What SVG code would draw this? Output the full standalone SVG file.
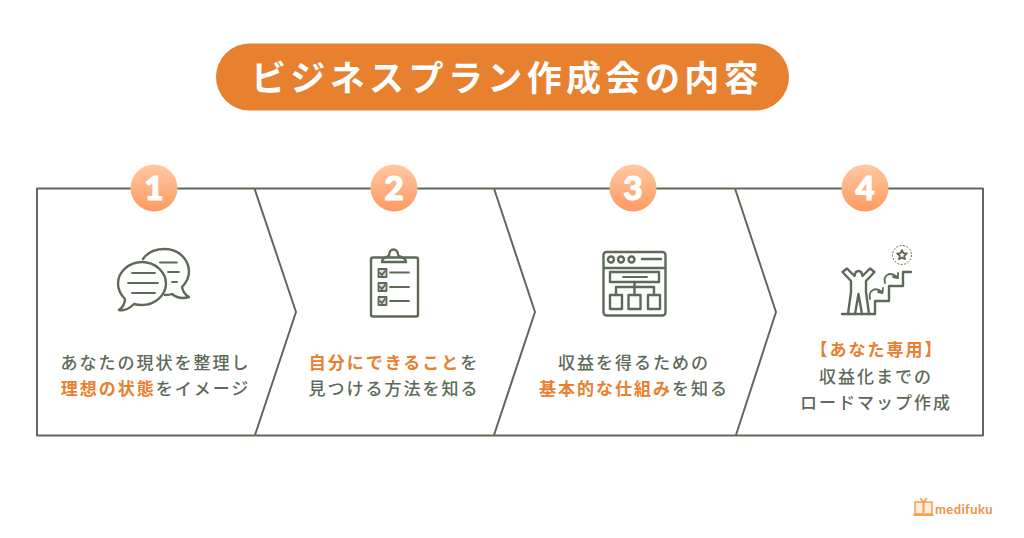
<svg xmlns="http://www.w3.org/2000/svg" width="1024" height="538" viewBox="0 0 1024 538">
<style>
.ln{fill:none;stroke:#5d6a58;stroke-width:2;stroke-linejoin:round}
.ic{fill:none;stroke:#5d6a58;stroke-width:2.400;stroke-linecap:round;stroke-linejoin:round}
.th{fill:none;stroke:#5d6a58;stroke-width:1.800;stroke-linecap:round;stroke-linejoin:round}
.t{font-family:"Noto Sans CJK JP","Noto Sans",sans-serif;font-size:17px;font-weight:500;fill:#5d6a58;letter-spacing:2px;text-anchor:middle}
.o{fill:#e8802f;font-weight:700}
.n{font-family:"Lato","Liberation Sans",sans-serif;font-size:33px;font-weight:900;fill:#fff;stroke:#fff;stroke-width:1.200;text-anchor:middle}
</style>
<defs>
<linearGradient id="g" x1="0" y1="0" x2="0" y2="1"><stop offset="0" stop-color="#ffc8a4"/><stop offset="1" stop-color="#ff9a60"/></linearGradient>
</defs>
<rect width="1024" height="538" fill="#fff"/>
<g id="title">
<rect x="216" y="43.500" width="573" height="67" rx="33.500" fill="#e7802f"/>
<text x="507" y="91" font-family="'Noto Sans CJK JP',sans-serif" font-size="35px" font-weight="700" fill="#fff" letter-spacing="4.400px" text-anchor="middle">ビジネスプラン作成会の内容</text>
</g>
<g id="connectors">
<rect x="37" y="188.500" width="946" height="247" class="ln"/>
<path class="ln" d="M254.500 188.500L296 312L255 435"/>
<path class="ln" d="M494 188.500L535 312L494 435"/>
<path class="ln" d="M735 188.500L776 312L736 435"/>
</g>
<g id="step1">
<circle cx="154" cy="188" r="23.500" fill="url(#g)"/>
<text class="n" x="154" y="200">1</text>
<path class="ic" d="M143 259C147 253 155 249 165 249C178 249 189 259 189 271.500C189 278 186 283 182 287C183 292 185 295 189 297C183 299 177 298 172 294C170 295 168 295 165 295"/>
<path class="ic" d="M142 262C155 262 166 272 166 283.500C166 295 155 305 142 305C139 305 137 305 134 304C129 309 125 311 119 310C123 307 125 304 125 299C121 295 118 289 118 283.500C118 272 129 262 142 262Z"/>
<path class="th" d="M132 273H155M128 283H158M132 293H155M160 262.500H177M168 272H179M172 282H177"/>
</g>
<text class="t" x="155.500" y="369">あなたの現状を整理し</text>
<text class="t" x="155.500" y="395"><tspan class="o">理想の状態</tspan>をイメージ</text>
<g id="step2">
<circle cx="394" cy="188" r="23.500" fill="url(#g)"/>
<text class="n" x="394" y="200">2</text>
<rect class="ic" x="371" y="257.500" width="47" height="59" rx="2"/>
<path class="ic" d="M382 262C382 258 386 257 389 256C389 252 391 249.500 393.500 249.500C396 249.500 398 252 398.500 256C401 257 406 258 406 262Z"/>
<g class="th"><rect x="378.500" y="269" width="8" height="8" fill="#dfe2dc"/><rect x="378.500" y="283" width="8" height="8" fill="#dfe2dc"/><rect x="378.500" y="297" width="8" height="8" fill="#dfe2dc"/>
<path d="M380 273L382 275L385 271M380 287L382 289L385 285M380 301L382 303L385 299M390 272.500H409M390 287H409M390 301H409"/></g>
</g>
<text class="t" x="394" y="369"><tspan class="o">自分にできること</tspan>を</text>
<text class="t" x="394" y="395">見つける方法を知る</text>
<g id="step3">
<circle cx="633" cy="188" r="23.500" fill="url(#g)"/>
<text class="n" x="633" y="200">3</text>
<rect class="ic" x="603.500" y="252" width="62" height="63.500" rx="3"/>
<path class="ic" d="M604 268H665M642 259H661"/>
<circle class="ic" cx="611" cy="259.500" r="3"/><circle class="ic" cx="621" cy="259.500" r="3"/><circle class="ic" cx="631.500" cy="259.500" r="3"/>
<rect class="ic" x="610" y="272" width="49" height="10"/>
<path class="th" d="M623 277H647"/>
<path class="ic" d="M634.500 282V295M616 295V287H654V295"/>
<rect class="ic" x="610" y="295" width="12" height="14"/><rect class="ic" x="628.500" y="295" width="12" height="14"/><rect class="ic" x="648" y="295" width="12" height="14"/>
</g>
<text class="t" x="634" y="369">収益を得るための</text>
<text class="t" x="634" y="395"><tspan class="o">基本的な仕組み</tspan>を知る</text>
<g id="step4">
<circle cx="865" cy="188" r="23.500" fill="url(#g)"/>
<text class="n" x="865" y="200">4</text>
<path class="ic" d="M842 314H875V301H889V286H903V272H911"/>
<path class="ic" d="M842.500 272L847 268.500L854.500 276C855 272 857 271 858.500 271C860 271 862 272 862.500 276L870 268.500L874.500 272L866 281V292L869 314M848 314L851 292V281L842.500 272M855 314L858.500 294L862 314"/>
<path class="th" d="M870 299C868 291 875 286 882 292M878 292L882.500 293L883 288M885 283C883 275 890 271 897 277M893 277L898 278L898 273"/>
<circle cx="902" cy="255" r="9.500" fill="none" stroke="#5d6a58" stroke-width="1" stroke-dasharray="2 1.500"/>
<path class="th" d="M902 250L903.400 253.200L906.800 253.500L904.200 255.800L905 259.200L902 257.400L899 259.200L899.800 255.800L897.200 253.500L900.600 253.200Z"/>
</g>
<text class="t" x="877" y="356"><tspan class="o">【あなた専用】</tspan></text>
<text class="t" x="876" y="383">収益化までの</text>
<text class="t" x="876" y="409">ロードマップ作成</text>
<g id="logo">
<path d="M915 502H932V514H915Z" fill="#ffeedd" stroke="#f5a04a" stroke-width="1.500"/>
<path d="M923.500 502V513M913.500 515H933.500" stroke="#f5a04a" stroke-width="2" fill="none"/>
<path d="M920 498L923.500 502L927 498" stroke="#f5a04a" stroke-width="1.500" fill="none"/>
<text x="935" y="514" font-family="Lato,'Liberation Sans',sans-serif" font-size="13px" font-weight="700" fill="#f0924a" letter-spacing=".4px">medifuku</text>
</g>
</svg>
